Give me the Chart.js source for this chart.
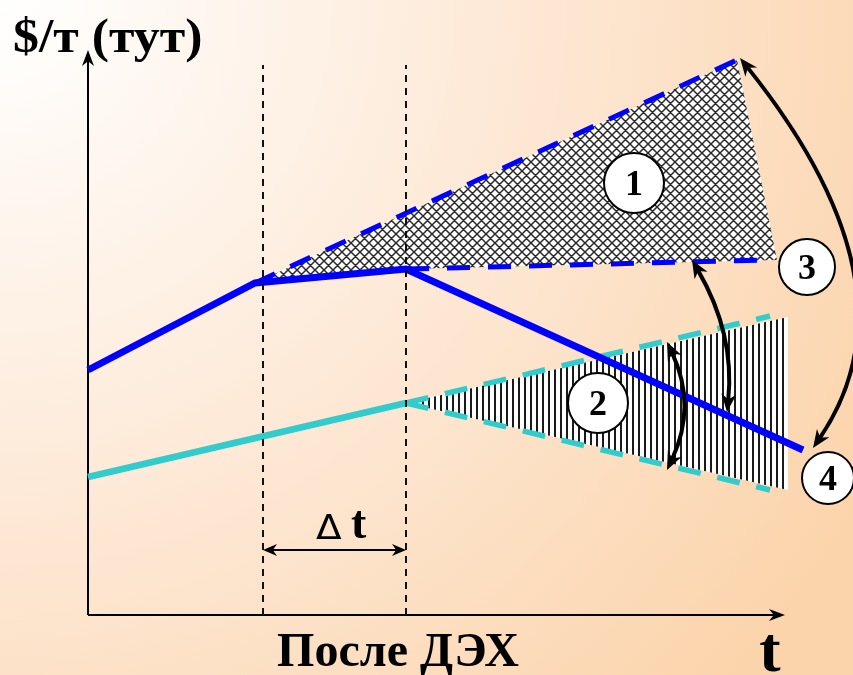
<!DOCTYPE html>
<html>
<head>
<meta charset="utf-8">
<script src="https://cdn.jsdelivr.net/npm/chart.js@4.4.1/dist/chart.umd.min.js"></script>
<style>
  html, body { margin: 0; padding: 0; background: #fff; }
  #wrap { width: 853px; height: 675px; position: relative; }
</style>
</head>
<body>
<div id="wrap"><canvas id="c"></canvas></div>
<script>
/* ---- data (arbitrary units: t along x, $/т along y) ---- */
const GUIDE_T = [17.5, 31.8];
const GUIDE_TOP = 55;

const BLUE_T = [0, 16.7, 31.8, 71.5];
const BLUE_V = [24.5, 33.2, 34.6, 16.5];
const BLUE_HI_T = [16.7, 64.9];
const BLUE_HI_V = [33.2, 55.5];
const BLUE_LO_T = [31.8, 67.9];
const BLUE_LO_V = [34.6, 35.5];

const CYAN_T = [0, 31.8];
const CYAN_V = [13.8, 21.2];
const CYAN_HI_T = [31.8, 68.2];
const CYAN_HI_V = [21.2, 29.9];
const CYAN_LO_T = [31.8, 68.2];
const CYAN_LO_V = [21.2, 12.5];

const ZONE1_TOP_T = [16.7, 64.9, 68.9];
const ZONE1_TOP_V = [33.2, 55.5, 35.5];
const ZONE1_BOT_T = [16.7, 31.8, 68.9];
const ZONE1_BOT_V = [33.2, 34.6, 35.5];
const ZONE2_TOP_T = [31.8, 70.0];
const ZONE2_TOP_V = [21.2, 29.8];
const ZONE2_BOT_T = [31.8, 70.0];
const ZONE2_BOT_V = [21.2, 12.5];

const MARK_LABELS = ['1', '2', '3', '4'];
const MARK_T = [54.6, 51.0, 71.9, 74.0];
const MARK_V = [43.2, 21.2, 34.8, 13.7];

// double-headed curved arrows: start, bend, end (same units)
const ARC_START = [[65.2, 55.7], [60.4, 35.5], [57.9, 27.3]];
const ARC_BEND = [[83.5, 32.8], [64.7, 28.1], [60.9, 20.9]];
const ARC_END = [[72.5, 16.7], [63.9, 20.3], [57.9, 14.5]];

const DT_LEVEL = 6.5;

const pts = (xs, ys) => xs.map((x, i) => ({ x, y: ys[i] }));

function crossHatch() {
  const s = 9, c = document.createElement('canvas');
  c.width = s; c.height = s;
  const g = c.getContext('2d');
  g.fillStyle = '#fff'; g.fillRect(0, 0, s, s);
  g.strokeStyle = '#2a2a2a'; g.lineWidth = 1.5;
  g.beginPath();
  for (let k = -1; k <= 1; k++) {
    g.moveTo(k * s, 0); g.lineTo(k * s + s, s);
    g.moveTo(k * s + s, 0); g.lineTo(k * s, s);
  }
  g.stroke();
  return g.createPattern(c, 'repeat');
}
function vertHatch() {
  const c = document.createElement('canvas');
  c.width = 6; c.height = 6;
  const g = c.getContext('2d');
  g.fillStyle = '#fff'; g.fillRect(0, 0, 6, 6);
  g.fillStyle = '#1a1a1a'; g.fillRect(2, 0, 2, 6);
  return g.createPattern(c, 'repeat');
}

const SERIF = "'Liberation Serif', 'Times New Roman', serif";
const BLUE = '#0000ff', CYAN = '#33cccc';

function head(ctx, x, y, ang, len, half) {
  ctx.save();
  ctx.translate(x, y); ctx.rotate(ang);
  ctx.beginPath();
  ctx.moveTo(0, 0); ctx.lineTo(-len, -half); ctx.lineTo(-len * 0.7, 0); ctx.lineTo(-len, half);
  ctx.closePath(); ctx.fill();
  ctx.restore();
}

const decor = {
  id: 'decor',
  beforeDraw(chart) {
    const { ctx, width, height } = chart;
    const g = ctx.createRadialGradient(0, 0, 0, 0, 0, 1000);
    g.addColorStop(0, '#ffffff');
    g.addColorStop(0.55, '#fde7d3');
    g.addColorStop(1, '#fbd4ab');
    ctx.save(); ctx.fillStyle = g; ctx.fillRect(0, 0, width, height); ctx.restore();
  },
  beforeDatasetsDraw(chart) {
    const { ctx, scales: { x, y } } = chart;
    const x0 = x.getPixelForValue(0), y0 = y.getPixelForValue(0);
    ctx.save();
    ctx.strokeStyle = '#000'; ctx.fillStyle = '#000'; ctx.lineWidth = 2;
    const yTop = 50, xEnd = 785;
    ctx.beginPath(); ctx.moveTo(x0, y0); ctx.lineTo(x0, yTop + 10); ctx.stroke();
    head(ctx, x0, yTop, -Math.PI / 2, 16, 6);
    ctx.beginPath(); ctx.moveTo(x0, y0); ctx.lineTo(xEnd - 10, y0); ctx.stroke();
    head(ctx, xEnd, y0, 0, 16, 6);
    ctx.restore();
  },
  afterDatasetsDraw(chart) {
    const { ctx, scales: { x, y } } = chart;
    ctx.save();
    ctx.fillStyle = '#000'; ctx.strokeStyle = '#000';

    // Δt span
    const ya = y.getPixelForValue(DT_LEVEL);
    const xa = x.getPixelForValue(GUIDE_T[0]), xb = x.getPixelForValue(GUIDE_T[1]);
    ctx.lineWidth = 2;
    ctx.beginPath(); ctx.moveTo(xa + 8, ya); ctx.lineTo(xb - 8, ya); ctx.stroke();
    head(ctx, xa, ya, Math.PI, 14, 6);
    head(ctx, xb, ya, 0, 14, 6);

    // curved arrows
    ctx.lineWidth = 4;
    ARC_START.forEach((s, i) => {
      const p0 = [x.getPixelForValue(s[0]), y.getPixelForValue(s[1])];
      const c = [x.getPixelForValue(ARC_BEND[i][0]), y.getPixelForValue(ARC_BEND[i][1])];
      const p2 = [x.getPixelForValue(ARC_END[i][0]), y.getPixelForValue(ARC_END[i][1])];
      const a0 = Math.atan2(p0[1] - c[1], p0[0] - c[0]);
      const a2 = Math.atan2(p2[1] - c[1], p2[0] - c[0]);
      const cut = 12;
      ctx.beginPath();
      ctx.moveTo(p0[0] - Math.cos(a0) * cut, p0[1] - Math.sin(a0) * cut);
      ctx.quadraticCurveTo(c[0], c[1], p2[0] - Math.cos(a2) * cut, p2[1] - Math.sin(a2) * cut);
      ctx.stroke();
      head(ctx, p0[0], p0[1], a0, 18, 7.5);
      head(ctx, p2[0], p2[1], a2, 18, 7.5);
    });

    // numbers inside circles
    const meta = chart.getDatasetMeta(0);
    ctx.font = 'bold 36px ' + SERIF;
    ctx.textAlign = 'center'; ctx.textBaseline = 'middle';
    meta.data.forEach((pt, i) => ctx.fillText(MARK_LABELS[i], pt.x, pt.y + 3));

    // text labels
    ctx.textBaseline = 'alphabetic';
    ctx.textAlign = 'left';
    ctx.font = 'bold 48px ' + SERIF;
    ctx.save();
    ctx.translate(13, 52); ctx.scale(1.08, 1);
    ctx.fillText('$/т (тут)', 0, 0);
    ctx.restore();
    ctx.save();
    ctx.font = "48px 'DejaVu Sans', sans-serif";
    ctx.translate(316, 539); ctx.scale(0.78, 0.72);
    ctx.fillText('Δ', 0, 0);
    ctx.restore();
    ctx.font = 'bold 46px ' + SERIF;
    ctx.fillText('t', 351, 538);
    ctx.textAlign = 'center';
    ctx.font = 'bold 48px ' + SERIF;
    ctx.fillText('После ДЭХ', 398, 666);
    ctx.font = 'bold 64px ' + SERIF;
    ctx.fillText('t', 770, 671);
    ctx.restore();
  }
};

function lineSet(data, color, width, dash, extra) {
  return Object.assign({
    data, borderColor: color, borderWidth: width, borderDash: dash || [],
    pointRadius: 0, fill: false, tension: 0, clip: false, borderCapStyle: 'butt'
  }, extra || {});
}

const datasets = [
  { data: pts(MARK_T, MARK_V), showLine: false, pointRadius: [30, 30, 28, 26], pointBackgroundColor: '#fff',
    pointBorderColor: '#000', pointBorderWidth: 2, clip: false },
  lineSet([{ x: GUIDE_T[0], y: 0 }, { x: GUIDE_T[0], y: GUIDE_TOP }], '#111', 2, [7, 6]),
  lineSet([{ x: GUIDE_T[1], y: 0 }, { x: GUIDE_T[1], y: GUIDE_TOP }], '#111', 2, [7, 6]),
  lineSet(pts(BLUE_T, BLUE_V), BLUE, 7),
  lineSet(pts(BLUE_HI_T, BLUE_HI_V), BLUE, 5, [22, 17]),
  lineSet(pts(BLUE_LO_T, BLUE_LO_V), BLUE, 5, [23, 18]),
  lineSet(pts(CYAN_T, CYAN_V), CYAN, 6.5),
  lineSet(pts(CYAN_HI_T, CYAN_HI_V), CYAN, 5.5, [23, 17]),
  lineSet(pts(CYAN_LO_T, CYAN_LO_V), CYAN, 5.5, [23, 17]),
  lineSet(pts(ZONE1_TOP_T, ZONE1_TOP_V), 'rgba(0,0,0,0)', 0, null, { fill: 10, backgroundColor: crossHatch() }),
  lineSet(pts(ZONE1_BOT_T, ZONE1_BOT_V), 'rgba(0,0,0,0)', 0),
  lineSet(pts(ZONE2_TOP_T, ZONE2_TOP_V), 'rgba(0,0,0,0)', 0, null, { fill: 12, backgroundColor: vertHatch() }),
  lineSet(pts(ZONE2_BOT_T, ZONE2_BOT_V), 'rgba(0,0,0,0)', 0)
];

new Chart(document.getElementById('c').getContext('2d'), {
  type: 'line',
  data: { datasets },
  options: {
    responsive: true,
    maintainAspectRatio: false,
    animation: false,
    layout: { autoPadding: false, padding: { left: 88, right: 0, top: 0, bottom: 60 } },
    scales: {
      x: { type: 'linear', min: 0, max: 76.5, display: false },
      y: { type: 'linear', min: 0, max: 61.5, display: false }
    },
    plugins: { legend: { display: false }, tooltip: { enabled: false } }
  },
  plugins: [decor]
});
</script>
</body>
</html>
